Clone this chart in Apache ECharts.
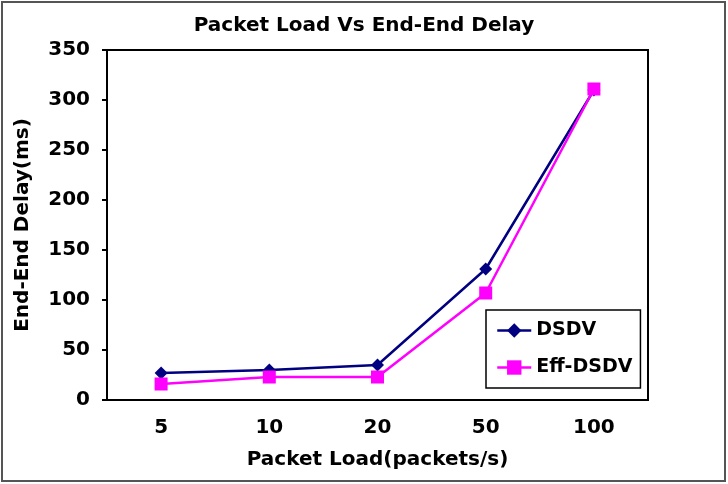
<!DOCTYPE html>
<html lang="en">
<head>
    <meta charset="UTF-8">
    <title>Packet Load Vs End-End Delay</title>
    <script src="https://cdn.jsdelivr.net/npm/echarts@6/dist/echarts.min.js"></script>
    <style>
        html, body { margin: 0; padding: 0; background: #fff; }
        #main { width: 728px; height: 484px; }
    </style>
</head>
<body>
<div id="main"></div>
<script>
    // data
    var loads = ['5', '10', '20', '50', '100'];
    var dsdv = [27, 30, 35, 131, 310];
    var effDsdv = [16, 23, 23, 107, 311];

    var font = 'DejaVu Sans';
    var myChart = echarts.init(document.getElementById('main'));

    var option = {
        animation: false,
        backgroundColor: '#fff',
        title: {
            text: 'Packet Load Vs End-End Delay',
            left: 'center',
            top: 11,
            textStyle: { fontFamily: font, fontSize: 20, fontWeight: 'bold', color: '#000' }
        },
        graphic: [{
            type: 'rect',
            shape: { x: 2, y: 2, width: 723, height: 479 },
            style: { fill: 'none', stroke: '#555', lineWidth: 2 }
        }],
        grid: {
            left: 107, right: 80, top: 50, bottom: 84,
            outerBoundsMode: 'none',
            show: true, borderColor: '#000', borderWidth: 2
        },
        legend: {
            orient: 'vertical',
            left: 486, top: 310,
            padding: [11, 8, 11, 10],
            itemGap: 18,
            itemWidth: 34,
            itemHeight: 18,
            borderColor: '#000', borderWidth: 1.5,
            backgroundColor: '#fff',
            textStyle: { fontFamily: font, fontSize: 19, fontWeight: 'bold', color: '#000' },
            data: [
                { name: 'DSDV', lineStyle: { width: 2.5 } },
                { name: 'Eff-DSDV', lineStyle: { width: 2.5 } }
            ]
        },
        xAxis: {
            type: 'category',
            data: loads,
            boundaryGap: true,
            name: 'Packet Load(packets/s)',
            nameLocation: 'middle',
            nameGap: 50,
            nameTextStyle: { fontFamily: font, fontSize: 20, fontWeight: 'bold', color: '#000' },
            axisLine: { lineStyle: { color: '#000', width: 2 } },
            axisTick: { length: 5, lineStyle: { color: '#000', width: 2 } },
            axisLabel: { fontFamily: font, fontSize: 20, fontWeight: 'bold', color: '#000', margin: 18 }
        },
        yAxis: {
            type: 'value',
            min: 0, max: 350, interval: 50,
            name: 'End-End Delay(ms)',
            nameLocation: 'middle',
            nameGap: 74,
            nameTextStyle: { fontFamily: font, fontSize: 20, fontWeight: 'bold', color: '#000' },
            axisLine: { show: true, lineStyle: { color: '#000', width: 2 } },
            axisTick: { show: true, length: 5, lineStyle: { color: '#000', width: 2 } },
            axisLabel: { fontFamily: font, fontSize: 20, fontWeight: 'bold', color: '#000', margin: 17 },
            splitLine: { show: false }
        },
        series: [{
            name: 'DSDV',
            type: 'line',
            data: dsdv,
            symbol: 'diamond',
            symbolSize: 13,
            color: '#000080',
            lineStyle: { width: 2.5, color: '#000080' },
            itemStyle: { color: '#000080' }
        }, {
            name: 'Eff-DSDV',
            type: 'line',
            data: effDsdv,
            symbol: 'rect',
            symbolSize: 13,
            color: '#ff00ff',
            lineStyle: { width: 2.5, color: '#ff00ff' },
            itemStyle: { color: '#ff00ff' }
        }]
    };

    myChart.setOption(option);
</script>
</body>
</html>
